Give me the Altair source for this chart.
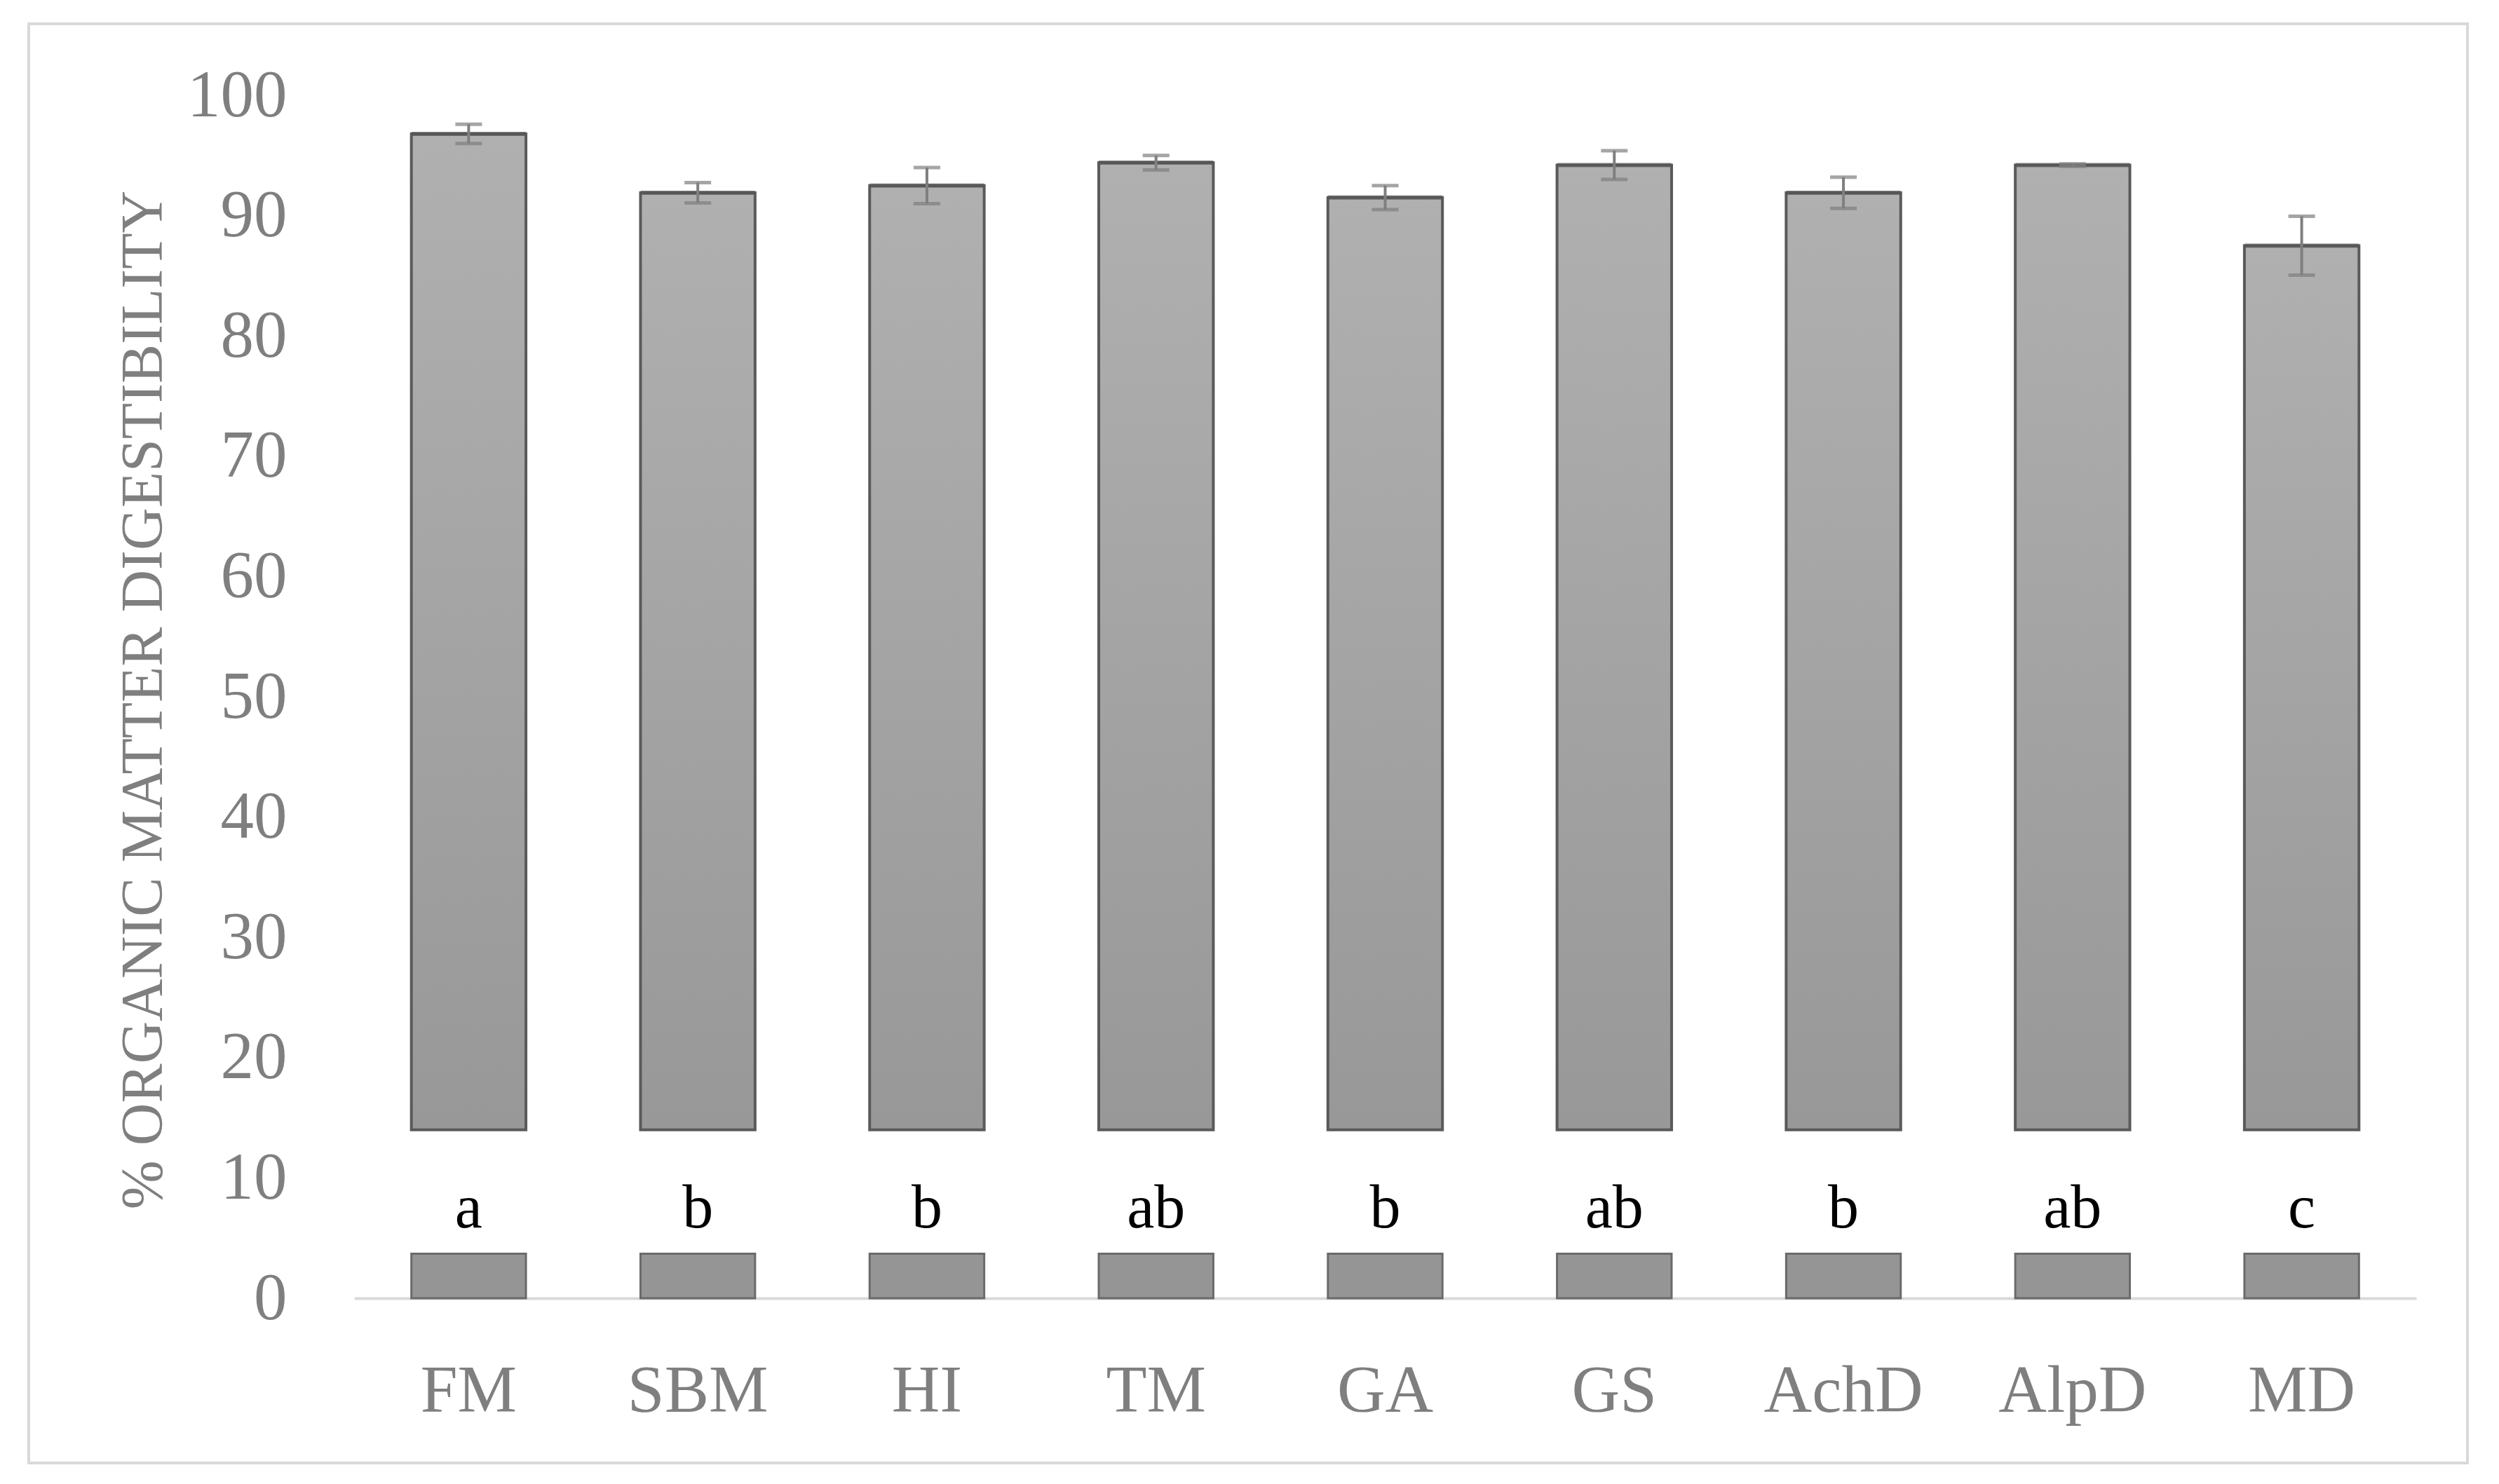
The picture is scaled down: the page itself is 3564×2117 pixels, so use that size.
import altair as alt
import pandas as pd

# ---- data ----
categories = ["FM", "SBM", "HI", "TM", "GA", "GS", "AchD", "AlpD", "MD"]
values = [96.8, 91.9, 92.5, 94.4, 91.5, 94.2, 91.9, 94.2, 87.5]
errors = [0.8, 0.85, 1.5, 0.6, 1.0, 1.2, 1.3, 0.1, 2.45]
letters = ["a", "b", "b", "ab", "b", "ab", "b", "ab", "c"]

# broken-axis band (white gap in every bar) and letter position
BREAK_LO = 3.7
BREAK_HI = 14.0
LETTER_Y = 5.9

df = pd.DataFrame({
    "cat": categories,
    "val": values,
    "err": errors,
    "letter": letters,
})
df["lo"] = df["val"] - df["err"]
df["hi"] = df["val"] + df["err"]
df["blo"] = BREAK_LO
df["bhi"] = BREAK_HI
df["ly"] = LETTER_Y
df["zero"] = 0.0

FONT = "Liberation Serif"
GRAY = "#7f7f7f"

W, H = 2941, 1716

x = alt.X(
    "cat:N",
    sort=categories,
    scale=alt.Scale(paddingInner=0.5, paddingOuter=0.25),
    axis=alt.Axis(
        title=None, labelAngle=0, labelFont=FONT, labelFontSize=95,
        labelColor=GRAY, labelPadding=86, labelLimit=1000, ticks=False,
        domainColor="#d9d9d9", domainWidth=4,
    ),
)
yscale = alt.Scale(domain=[0, 100], nice=False)

base = alt.Chart(df)

grad = alt.Gradient(
    gradient="linear",
    stops=[alt.GradientStop(color="#b0b0b0", offset=0),
           alt.GradientStop(color="#989898", offset=1)],
    x1=0, x2=0, y1=0, y2=1,
)

upper = base.mark_bar(color=grad, stroke="#5a5a5a", strokeWidth=4).encode(
    x=x,
    y=alt.Y(
        "val:Q", scale=yscale,
        axis=alt.Axis(
            values=list(range(0, 101, 10)), grid=False, domain=False, ticks=False,
            labelFont=FONT, labelFontSize=95, labelColor=GRAY, labelPadding=96,
            title="% ORGANIC MATTER DIGESTIBILITY", titleFont=FONT,
            titleFontSize=84, titleFontWeight="normal", titleColor=GRAY,
            titleX=-300, titleY=862, titleAlign="center", titleBaseline="middle",
            titleAngle=270,
        ),
    ),
    y2="bhi:Q",
)

top_edge = base.mark_tick(color="#555555", thickness=6, size=163).encode(
    x=x, y=alt.Y("val:Q", scale=yscale),
)

lower = base.mark_bar(color="#959595", stroke="#6a6a6a", strokeWidth=3).encode(
    x=x, y=alt.Y("blo:Q", scale=yscale), y2="zero:Q",
)

err_rule = base.mark_rule(color=GRAY, strokeWidth=4).encode(
    x=x, y=alt.Y("lo:Q", scale=yscale), y2="hi:Q",
)
cap_lo = base.mark_tick(color=GRAY, thickness=5, size=38).encode(
    x=x, y=alt.Y("lo:Q", scale=yscale),
)
cap_hi = base.mark_tick(color=GRAY, thickness=5, size=38).encode(
    x=x, y=alt.Y("hi:Q", scale=yscale),
)

text = base.mark_text(
    font=FONT, fontSize=88, color="black", baseline="alphabetic", align="center",
).encode(
    x=x, y=alt.Y("ly:Q", scale=yscale), text="letter:N",
)

frame = alt.Chart(pd.DataFrame({"k": [0]})).mark_rect(
    fillOpacity=0, stroke="#d9d9d9", strokeWidth=4,
).encode(
    x=alt.value(-464), x2=alt.value(3014), y=alt.value(-102), y2=alt.value(1951),
)

chart = alt.layer(
    frame, upper, top_edge, lower, err_rule, cap_lo, cap_hi, text,
).properties(
    width=W, height=H,
    background="white",
    autosize=alt.AutoSizeParams(type="none"),
    padding={"left": 497, "top": 128, "right": 110, "bottom": 257},
).configure_view(stroke="transparent", strokeWidth=0)

chart.save("out.html", embed_options={"renderer": "svg", "actions": False})
